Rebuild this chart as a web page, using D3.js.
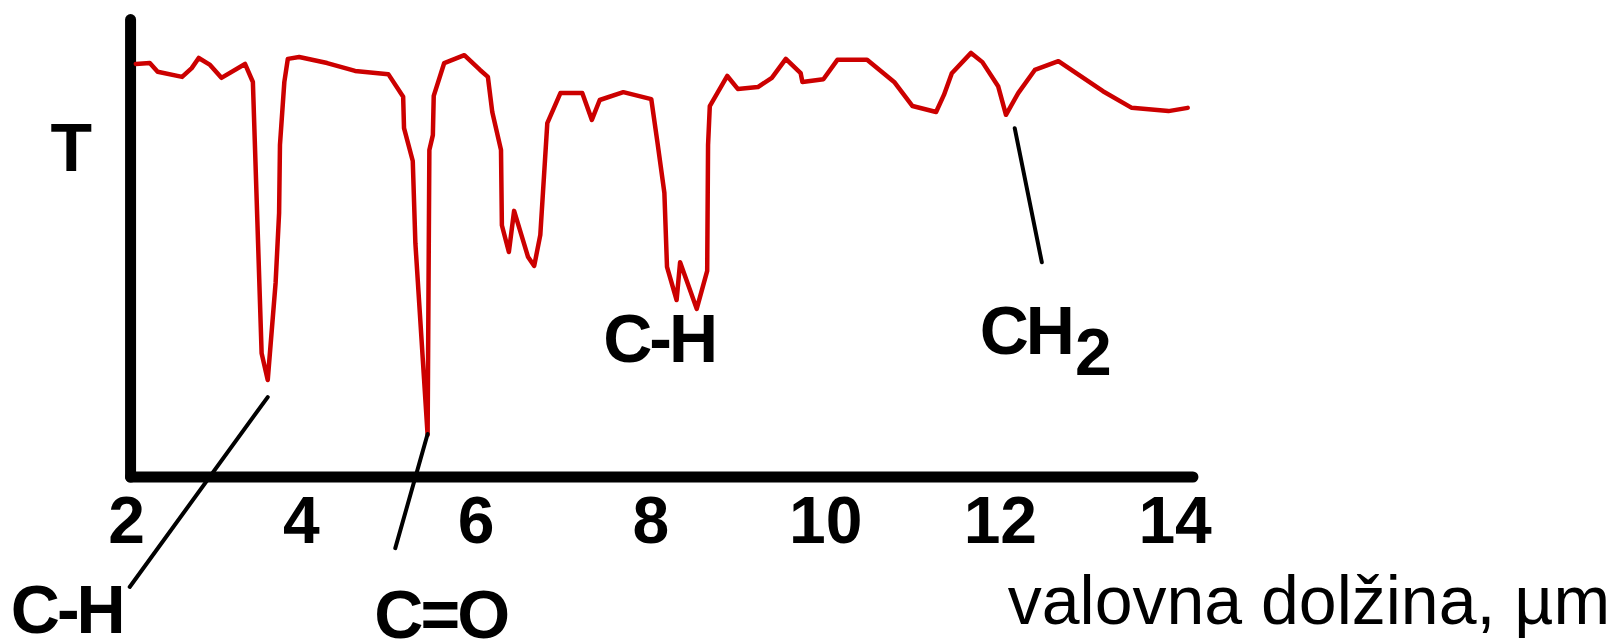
<!DOCTYPE html>
<html>
<head>
<meta charset="utf-8">
<script src="https://cdn.jsdelivr.net/npm/d3@7"></script>
<style>
  body { margin: 0; background: #fff; }
  svg { display: block; font-family: "Liberation Sans", Arial, sans-serif; }
</style>
</head>
<body>
<div id="spectrum"></div>
<script>
// IR spectrum, wavelength in um, transmittance in %
const wavelength = [
  2.11, 2.27, 2.36, 2.64, 2.75, 2.83, 2.96, 3.09, 3.36, 3.45,
  3.55, 3.62, 3.71, 3.75, 3.76, 3.81, 3.85, 3.98, 4.30, 4.62,
  5.00, 5.17, 5.18, 5.28, 5.31, 5.45, 5.47, 5.51, 5.52, 5.64,
  5.87, 6.05, 6.14, 6.19, 6.29, 6.30, 6.38, 6.44, 6.60, 6.67,
  6.74, 6.82, 6.97, 7.22, 7.33, 7.42, 7.69, 8.01, 8.08, 8.16,
  8.19, 8.30, 8.34, 8.53, 8.65, 8.66, 8.68, 8.88, 9.00, 9.23,
  9.39, 9.55, 9.72, 9.74, 9.98, 10.14, 10.48, 10.79, 11.00, 11.27,
  11.36, 11.45, 11.67, 11.80, 11.98, 12.07, 12.21, 12.40, 12.67, 13.18,
  13.51, 13.93, 14.15
];
const transmittance = [
  89.4, 89.6, 87.7, 86.6, 88.5, 90.7, 89.2, 86.4, 89.4, 85.5,
  26.8, 21.0, 42.0, 57.1, 71.9, 85.5, 90.5, 90.9, 89.6, 87.9,
  87.2, 82.3, 75.5, 68.4, 50.6, 9.1, 70.8, 74.0, 82.5, 89.6,
  91.3, 88.1, 86.6, 79.0, 70.8, 54.5, 48.7, 57.6, 47.6, 45.7,
  52.4, 76.6, 83.1, 83.1, 77.3, 81.6, 83.3, 81.8, 72.5, 61.5,
  45.5, 38.3, 46.5, 36.4, 44.6, 71.9, 80.3, 86.8, 84.0, 84.4,
  86.4, 90.5, 87.4, 85.5, 86.1, 90.3, 90.3, 85.5, 80.3, 79.0,
  82.7, 87.4, 91.8, 89.8, 84.6, 78.4, 83.1, 88.1, 90.0, 83.5,
  79.9, 79.2, 79.9
];

const xTicks = [2, 4, 6, 8, 10, 12, 14];

// band annotations: label, where the leader line starts and ends, where the label sits
const bandNames   = ["C-H", "C=O", "C-H", "CH"];
const bandSub     = ["", "", "", "2"];
const leaderFrom  = [[3.62, 17.3], [5.45, 9.3], null, [12.17, 75.5]];
const leaderTo    = [[2.04, -23.8], [5.08, -15.4], null, [12.48, 46.5]];
const bandLabelAt = [[1.32, -33.8], [5.60, -34.8], [8.10, 24.9], [11.77, 26.6]];
const bandAnchor  = ["middle", "middle", "middle", "start"];

const yLabel = "T";
const xLabel = "valovna dolžina, µm";

const width = 1621;
const height = 643;

const x = d3.scaleLinear().domain([2, 14]).range([126.2, 1174.6]);
const y = d3.scaleLinear().domain([0, 100]).range([477, 15]);

const svg = d3.select("#spectrum")
  .append("svg")
  .attr("width", width)
  .attr("height", height)
  .attr("viewBox", `0 0 ${width} ${height}`);

// axes drawn as thick rounded strokes
svg.append("line")
  .attr("x1", x(2.05)).attr("y1", y(0))
  .attr("x2", x(2.05)).attr("y2", y(99))
  .attr("stroke", "#000").attr("stroke-width", 11)
  .attr("stroke-linecap", "round");
svg.append("line")
  .attr("x1", x(2.05)).attr("y1", y(0))
  .attr("x2", x(14.21)).attr("y2", y(0))
  .attr("stroke", "#000").attr("stroke-width", 11)
  .attr("stroke-linecap", "round");

const bottomAxis = d3.axisBottom(x)
  .tickValues(xTicks)
  .tickSize(0)
  .tickPadding(19)
  .tickFormat(d3.format("d"));

const gx = svg.append("g")
  .attr("transform", `translate(0, ${y(0)})`)
  .call(bottomAxis);
gx.select(".domain").remove();
gx.selectAll("text")
  .attr("font-family", "'Liberation Sans', Arial, sans-serif")
  .attr("font-size", 66)
  .attr("font-weight", "bold")
  .attr("fill", "#000");

// spectrum
const data = wavelength.map((w, i) => ({ w, t: transmittance[i] }));
const line = d3.line()
  .x(d => x(d.w))
  .y(d => y(d.t));

svg.append("path")
  .datum(data)
  .attr("d", line)
  .attr("fill", "none")
  .attr("stroke", "#cc0000")
  .attr("stroke-width", 4.5)
  .attr("stroke-linejoin", "round")
  .attr("stroke-linecap", "round");

// leader lines
bandNames.forEach((name, i) => {
  if (!leaderFrom[i]) return;
  svg.append("line")
    .attr("x1", x(leaderFrom[i][0])).attr("y1", y(leaderFrom[i][1]))
    .attr("x2", x(leaderTo[i][0])).attr("y2", y(leaderTo[i][1]))
    .attr("stroke", "#000").attr("stroke-width", 4)
    .attr("stroke-linecap", "round");
});

// band labels
bandNames.forEach((name, i) => {
  const t = svg.append("text")
    .attr("x", x(bandLabelAt[i][0]))
    .attr("y", y(bandLabelAt[i][1]))
    .attr("text-anchor", bandAnchor[i])
    .attr("font-size", 68)
    .attr("font-weight", "bold")
    .attr("letter-spacing", -3)
    .text(name);
  if (bandSub[i]) {
    t.append("tspan")
      .attr("dy", 21)
      .attr("dx", 3)
      .attr("font-size", 66)
      .text(bandSub[i]);
  }
});

// axis titles
svg.append("text")
  .attr("x", x(1.37))
  .attr("y", y(66.2))
  .attr("text-anchor", "middle")
  .attr("font-size", 68)
  .attr("font-weight", "bold")
  .text(yLabel);

svg.append("text")
  .attr("x", x(12.09))
  .attr("y", y(-31.8))
  .attr("font-size", 68)
  .text(xLabel);
</script>
</body>
</html>
